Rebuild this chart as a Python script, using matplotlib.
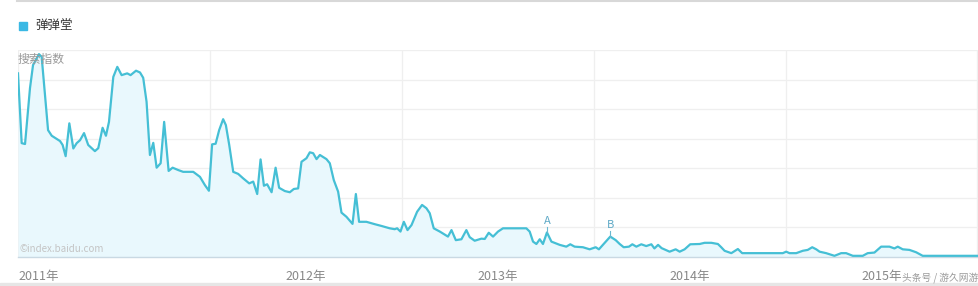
import matplotlib
matplotlib.use("Agg")
import matplotlib.pyplot as plt
import matplotlib.transforms as mtransforms
from matplotlib.lines import Line2D

plt.rcParams['font.family'] = ['Noto Sans CJK SC', 'DejaVu Sans']

# months since 2011-01
months = [0, 0.23, 0.44, 0.75, 0.94, 1.31, 1.48, 1.69, 1.88, 2.11, 2.63, 2.79, 2.98, 3.21, 3.46,
          3.67, 3.88, 4.13, 4.39, 4.81, 5.02, 5.29, 5.5, 5.69, 5.96, 6.21, 6.48, 6.83, 7.04, 7.38,
          7.63, 7.83, 8.04, 8.25, 8.46, 8.67, 8.92, 9.14, 9.42, 9.67, 10.02, 10.33, 10.96, 11.38,
          11.69, 11.94, 12.14, 12.36, 12.58, 12.83, 13.0, 13.21, 13.46, 13.77, 14.08, 14.46, 14.71,
          14.96, 15.17, 15.38, 15.58, 15.86, 16.11, 16.33, 16.69, 17.0, 17.25, 17.52, 17.73, 18.04,
          18.25, 18.46, 18.67, 18.88, 19.29, 19.5, 19.75, 20.02, 20.23, 20.54, 20.92, 21.13, 21.33,
          21.79, 22.31, 22.73, 23.25, 23.56, 23.71, 23.92, 24.13, 24.36, 24.61, 24.96, 25.27, 25.54,
          25.75, 26.0, 26.38, 26.89, 27.11, 27.38, 27.73, 28.04, 28.25, 28.56, 28.98, 29.19, 29.44,
          29.71, 30.02, 30.33, 31.79, 32.0, 32.21, 32.42, 32.63, 32.83, 33.08, 33.36, 33.88, 34.29,
          34.54, 34.81, 35.33, 35.75, 36.13, 36.33, 36.69, 37.04, 37.38, 37.63, 37.88, 38.21, 38.42,
          38.67, 38.98, 39.29, 39.61, 39.8, 40.03, 40.25, 40.75, 41.13, 41.38, 41.69, 42.04, 42.63,
          42.94, 43.36, 43.77, 43.98, 44.19, 44.61, 45.02, 45.29, 47.83, 48.04, 48.25, 48.67, 49.08,
          49.39, 49.67, 49.92, 50.13, 50.54, 51.06, 51.48, 51.79, 52.21, 52.83, 53.14, 53.56, 53.98,
          54.5, 54.81, 55.02, 55.33, 55.75, 56.17, 56.58, 60.1]
index = [6210, 3850, 3820, 5710, 6490, 6860, 6770, 5480, 4290, 4100, 3920, 3790, 3410, 4520, 3670,
         3850, 3950, 4190, 3790, 3580, 3680, 4370, 4100, 4570, 6090, 6430, 6150, 6210, 6150, 6300,
         6240, 6060, 5250, 3450, 3860, 3020, 3170, 4570, 2910, 3020, 2940, 2880, 2880, 2710,
         2430, 2240, 3810, 3830, 4290, 4660, 4460, 3790, 2880, 2810, 2660, 2490, 2550,
         2130, 3300, 2410, 2460, 2190, 3020, 2340, 2230, 2190, 2300, 2320, 3220, 3340,
         3540, 3510, 3310, 3450, 3310, 3170, 2600, 2210, 1500, 1360, 1120, 2130, 1190,
         1190, 1110, 1050, 970, 940, 970, 860, 1190, 910, 1080, 1530, 1760, 1650,
         1480, 970, 860, 690, 910, 570, 600, 910, 670, 550, 620, 610, 820,
         690, 860, 970, 970, 860, 520, 440, 600, 440, 830, 520, 410, 350,
         430, 350, 330, 260, 330, 260, 480, 690, 570, 440, 330, 350, 430,
         350, 430, 370, 430, 290, 410, 300, 180, 260, 180, 260, 430, 440,
         480, 480, 440, 330, 210, 130, 270, 130, 130, 180, 130, 130, 210,
         240, 330, 260, 180, 130, 40, 130, 130, 40, 40, 130, 150, 350,
         350, 290, 350, 260, 240, 160, 40, 40]

year_labels = ['2011年', '2012年', '2013年', '2014年', '2015年']
year_label_pos = [0, 18, 30, 42, 54]
year_grid = [0, 12, 24, 36, 48, 60]
marks = ['A', 'B']
mark_pos = [33.08, 37.04]
mark_val = [830, 690]

W, H = 979, 286
fig = plt.figure(figsize=(W / 100, H / 100), dpi=100)
ax = fig.add_axes([18 / W, (H - 257) / H, (W - 18) / W, (257 - 50) / H])
ax.set_xlim(0, 60.1)
ax.set_ylim(0, 7000)

for g in range(0, 7001, 1000):
    ax.axhline(g, color='#efefef', lw=0.9, zorder=0)
for g in year_grid:
    ax.axvline(g, color='#efefef', lw=0.9, zorder=0)

ax.fill_between(months, index, 0, color='#e9f8fd', zorder=1, lw=0)
ax.plot(months, index, color='#45bfd5', lw=1.6, zorder=3, solid_joinstyle='round')

for s in ['top', 'right', 'left']:
    ax.spines[s].set_visible(False)
ax.spines['bottom'].set_color('#c9d9e3')
ax.spines['bottom'].set_linewidth(1.0)
ax.set_xticks([])
ax.set_yticks([])

trans = mtransforms.blended_transform_factory(ax.transData, ax.transAxes)
for lab, p in zip(year_labels, year_label_pos):
    ha = 'left' if p == 0 else 'center'
    ax.text(p, -0.065, lab, transform=trans, ha=ha, va='top', fontsize=9, color='#888888')

for m, p, v in zip(marks, mark_pos, mark_val):
    ax.plot([p, p], [v, v + 180], color='#6bb8d0', lw=0.8, zorder=4)
    ax.annotate(m, (p, v + 180), xytext=(0, 1), textcoords='offset points',
                ha='center', va='bottom', fontsize=8, color='#5fa9c6', zorder=5)

ax.text(0.0, 0.985, '搜索指数', transform=ax.transAxes, ha='left', va='top',
        fontsize=8.5, color='#999999', zorder=6)
ax.text(0.002, 0.015, '©index.baidu.com', transform=ax.transAxes, ha='left', va='bottom',
        fontsize=7, color='#c4c4c4', zorder=6)

# legend
fig.patches.append(plt.Rectangle((19 / W, 1 - 30 / H), 8 / W, 8 / H, transform=fig.transFigure,
                                 color='#3ab8e4', figure=fig))
fig.text(35 / W, 1 - 25.5 / H, '弹弹堂', ha='left', va='center', fontsize=9, color='#333333')

# page separators
fig.add_artist(Line2D([17 / W, 1], [1 - 0.8 / H, 1 - 0.8 / H], transform=fig.transFigure,
                      color='#d8d8d8', lw=1.5))
fig.patches.append(plt.Rectangle((0, 0), 1, 3 / H, transform=fig.transFigure,
                                 color='#e6e6e6', figure=fig))

fig.text(978 / W, 1 - 278 / H, '头条号 / 游久网游', ha='right', va='center', fontsize=7,
         color='#9a9a9a', style='italic')

fig.savefig('out.png', dpi=100)
